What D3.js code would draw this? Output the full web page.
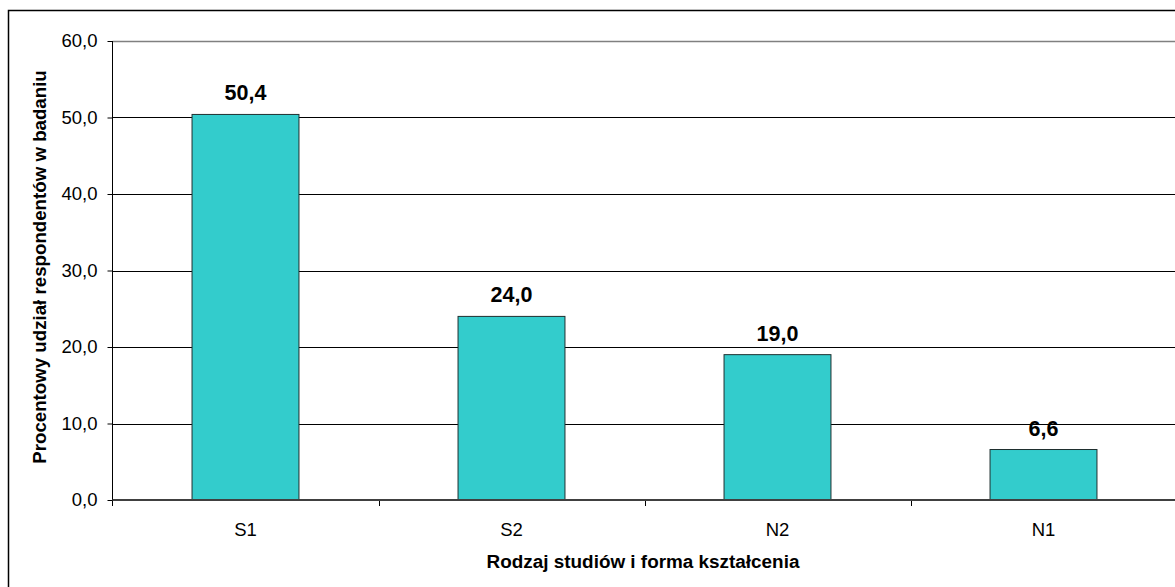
<!DOCTYPE html>
<html>
<head>
<meta charset="utf-8">
<script src="https://cdn.jsdelivr.net/npm/d3@7"></script>
<style>
  html, body { margin: 0; padding: 0; background: #fff; }
  svg { display: block; font-family: "Liberation Sans", Arial, sans-serif; }
</style>
</head>
<body>
<svg id="chart" width="1175" height="587"></svg>
<script>
'use strict';

const categories = ['S1', 'S2', 'N2', 'N1'];
const values     = [50.4, 24.0, 19.0, 6.6];
const yTicks     = [0, 10, 20, 30, 40, 50, 60];

const PLOT_LEFT   = 112.5;
const PLOT_RIGHT  = 1176.5;
const PLOT_TOP    = 41;
const PLOT_BOTTOM = 500;

const BAR_FILL   = '#33cccc';
const BAR_STROKE = '#1f2f2f';

const fmt = v => d3.format('.1f')(v).replace('.', ',');

const svg = d3.select('#chart');

// ── Outer frame (chart is cropped on the right and bottom) ─────
svg.append('path')
  .attr('d', 'M8.5,1000 V10.5 H1200')
  .attr('fill', 'none')
  .attr('stroke', '#000')
  .attr('stroke-width', 1.5);

// ── Scales ────────────────────────────────────────────────────
const x = d3.scaleBand()
  .domain(categories)
  .range([PLOT_LEFT, PLOT_RIGHT])
  .paddingInner(0.598)
  .paddingOuter(0.299);

const y = d3.scaleLinear()
  .domain([0, 60])
  .range([PLOT_BOTTOM, PLOT_TOP]);

// ── Gridlines ─────────────────────────────────────────────────
svg.append('g')
  .selectAll('line')
  .data(yTicks.filter(t => t > 0))
  .join('line')
    .attr('x1', PLOT_LEFT)
    .attr('x2', PLOT_RIGHT)
    .attr('y1', d => Math.round(y(d)) + 0.5)
    .attr('y2', d => Math.round(y(d)) + 0.5)
    .attr('stroke', d => d === 60 ? '#808080' : '#000')
    .attr('stroke-width', d => d === 60 ? 1.6 : 1);

// ── Bars ──────────────────────────────────────────────────────
svg.append('g')
  .selectAll('rect')
  .data(values)
  .join('rect')
    .attr('x', (d, i) => x(categories[i]))
    .attr('y', d => y(d))
    .attr('width', x.bandwidth())
    .attr('height', d => y(0) - y(d))
    .attr('fill', BAR_FILL)
    .attr('stroke', BAR_STROKE)
    .attr('stroke-width', 1);

// ── Value labels ──────────────────────────────────────────────
svg.append('g')
  .selectAll('text')
  .data(values)
  .join('text')
    .attr('x', (d, i) => x(categories[i]) + x.bandwidth() / 2)
    .attr('y', d => y(d) - 14)
    .attr('text-anchor', 'middle')
    .attr('font-size', 21.5)
    .attr('font-weight', 'bold')
    .attr('fill', '#000')
    .text(fmt);

// ── Y axis ────────────────────────────────────────────────────
const yAxis = svg.append('g')
  .attr('transform', `translate(${PLOT_LEFT},0)`)
  .call(d3.axisLeft(y).tickValues(yTicks).tickFormat(fmt).tickSize(5).tickPadding(10));

yAxis.select('.domain').remove();
yAxis.selectAll('.tick line').attr('stroke', '#000');
yAxis.selectAll('.tick text')
  .attr('font-size', 18.5)
  .attr('font-family', '"Liberation Sans", Arial, sans-serif')
  .attr('fill', '#000');

svg.append('line')
  .attr('x1', PLOT_LEFT).attr('x2', PLOT_LEFT)
  .attr('y1', PLOT_TOP).attr('y2', PLOT_BOTTOM + 6)
  .attr('stroke', '#000')
  .attr('stroke-width', 1);

// ── X axis ────────────────────────────────────────────────────
const xAxis = svg.append('g')
  .attr('transform', `translate(0,${PLOT_BOTTOM})`)
  .call(d3.axisBottom(x).tickSize(0).tickPadding(23));

xAxis.select('.domain').remove();
xAxis.selectAll('.tick text')
  .attr('font-size', 18.5)
  .attr('font-family', '"Liberation Sans", Arial, sans-serif')
  .attr('fill', '#000');

// tick marks sit on the band boundaries
const edges = categories.map(c => x(c) - x.step() * x.paddingOuter());
svg.append('g')
  .selectAll('line')
  .data(edges.slice(1))
  .join('line')
    .attr('x1', d => Math.round(d) + 0.5)
    .attr('x2', d => Math.round(d) + 0.5)
    .attr('y1', PLOT_BOTTOM)
    .attr('y2', PLOT_BOTTOM + 6)
    .attr('stroke', '#000');

svg.append('line')
  .attr('x1', PLOT_LEFT).attr('x2', PLOT_RIGHT)
  .attr('y1', PLOT_BOTTOM).attr('y2', PLOT_BOTTOM)
  .attr('stroke', '#404040')
  .attr('stroke-width', 2);

// ── Axis titles ───────────────────────────────────────────────
svg.append('text')
  .attr('x', 643)
  .attr('y', 568)
  .attr('text-anchor', 'middle')
  .attr('font-size', 18.9)
  .attr('font-weight', 'bold')
  .text('Rodzaj studiów i forma kształcenia');

svg.append('text')
  .attr('transform', 'translate(45.5,267) rotate(-90)')
  .attr('text-anchor', 'middle')
  .attr('font-size', 18.7)
  .attr('font-weight', 'bold')
  .text('Procentowy udział respondentów w badaniu');
</script>
</body>
</html>
